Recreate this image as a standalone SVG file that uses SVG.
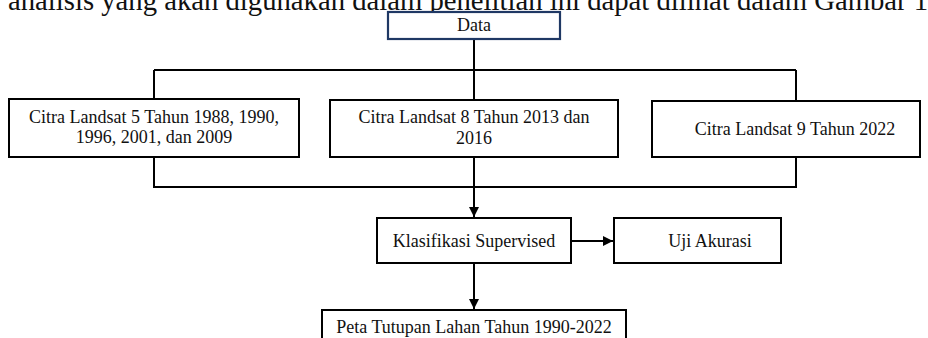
<svg xmlns="http://www.w3.org/2000/svg" width="928" height="338" viewBox="0 0 928 338">
<style>
  .bg{fill:#ffffff}
  .box{fill:#ffffff;stroke:#000000;stroke-width:2}
  .navy{fill:#ffffff;stroke:#1f3864;stroke-width:2.2}
  .t{font-family:"Liberation Serif","Times New Roman",serif;font-size:18px;fill:#111111;text-anchor:middle}
  .head{font-family:"Liberation Serif","Times New Roman",serif;font-size:28.7px;fill:#111111}
  .ln{fill:none;stroke:#000000;stroke-width:2}
</style>
<defs>
  <marker id="ah" viewBox="0 0 10 10" refX="10" refY="5" markerWidth="10" markerHeight="10" markerUnits="userSpaceOnUse" orient="auto">
    <path d="M0,0 L10,5 L0,10 Z" fill="#000000"/>
  </marker>
</defs>
<rect class="bg" x="0" y="0" width="928" height="338"/>
<text class="head" x="8" y="10">analisis yang akan digunakan dalam penelitian ini dapat dilihat dalam Gambar 1</text>
<g id="connectors">
  <path class="ln" d="M474,39 V70"/>
  <path class="ln" d="M154,70 H796"/>
  <path class="ln" d="M154,70 V99"/>
  <path class="ln" d="M474,70 V100"/>
  <path class="ln" d="M796,70 V101"/>
  <path class="ln" d="M154,157 V187 H796 V157"/>
  <path class="ln" d="M474,157 V187"/>
  <path class="ln" d="M474,187 V217" marker-end="url(#ah)"/>
  <path class="ln" d="M571,241 H613" marker-end="url(#ah)"/>
  <path class="ln" d="M474,263 V309" marker-end="url(#ah)"/>
</g>
<g id="node-data">
  <rect class="navy" x="388" y="12" width="172" height="27"/>
  <text class="t" x="474" y="31">Data</text>
</g>
<g id="node-landsat5">
  <rect class="box" x="9" y="99" width="290" height="58"/>
  <text class="t" x="154" y="123">Citra Landsat 5 Tahun 1988, 1990,</text>
  <text class="t" x="154" y="143">1996, 2001, dan 2009</text>
</g>
<g id="node-landsat8">
  <rect class="box" x="330" y="100" width="288" height="57"/>
  <text class="t" x="474" y="123">Citra Landsat 8 Tahun 2013 dan</text>
  <text class="t" x="474" y="144">2016</text>
</g>
<g id="node-landsat9">
  <rect class="box" x="652" y="101" width="268" height="56"/>
  <text class="t" x="795" y="135">Citra Landsat 9 Tahun 2022</text>
</g>
<g id="node-klasifikasi">
  <rect class="box" x="377" y="218" width="194" height="45"/>
  <text class="t" x="474" y="247">Klasifikasi Supervised</text>
</g>
<g id="node-uji">
  <rect class="box" x="614" y="218" width="167" height="45"/>
  <text class="t" x="710" y="247">Uji Akurasi</text>
</g>
<g id="node-peta">
  <rect class="box" x="322" y="310" width="304" height="40"/>
  <text class="t" x="474" y="333">Peta Tutupan Lahan Tahun 1990-2022</text>
</g>
</svg>
